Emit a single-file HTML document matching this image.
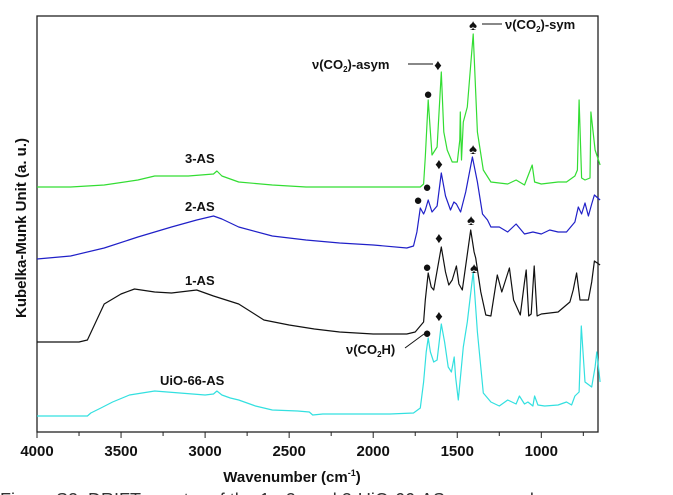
<!DOCTYPE html>
<html><head><meta charset="utf-8"><style>
html,body{margin:0;padding:0;background:#fff;width:673px;height:495px;overflow:hidden}
svg{display:block;font-family:"Liberation Sans",sans-serif}
</style></head><body>
<svg id="chart" width="673" height="495" viewBox="0 0 673 495" xmlns="http://www.w3.org/2000/svg">
<rect x="37" y="16" width="561" height="416" fill="none" stroke="#222" stroke-width="1.3"/>
<g id="ticks"></g>
<g id="series"></g>
<g font-weight="bold" font-size="13" fill="#111">
<text x="185" y="163">3-AS</text>
<text x="185" y="211">2-AS</text>
<text x="185" y="285">1-AS</text>
<text x="160" y="385">UiO-66-AS</text>
<text x="505" y="29">ν(CO<tspan font-size="8" dy="3">2</tspan><tspan dy="-3">)-sym</tspan></text>
<text x="312" y="69">ν(CO<tspan font-size="8" dy="3">2</tspan><tspan dy="-3">)-asym</tspan></text>
<text x="346" y="354">ν(CO<tspan font-size="8" dy="3">2</tspan><tspan dy="-3">H)</tspan></text>
<text transform="translate(26,228) rotate(-90)" text-anchor="middle" font-size="15">Kubelka-Munk Unit (a. u.)</text>
<text x="292" y="482" text-anchor="middle" font-size="15">Wavenumber (cm<tspan font-size="9" dy="-6">-1</tspan><tspan dy="6">)</tspan></text>
</g>
<g stroke="#111" stroke-width="1">
<line x1="482" y1="24" x2="502" y2="24"/>
<line x1="408" y1="64" x2="433" y2="64"/>
<line x1="405" y1="348" x2="424" y2="334"/>
</g>
<g fill="#111" font-size="15" text-anchor="middle">
<text x="473" y="30">♠</text><text x="438" y="70">♦</text><text x="428" y="99">●</text>
<text x="473" y="154">♠</text><text x="439" y="169">♦</text><text x="427" y="192">●</text><text x="418" y="205">●</text>
<text x="471" y="225">♠</text><text x="439" y="243">♦</text><text x="427" y="272">●</text>
<text x="474" y="273">♠</text><text x="439" y="321">♦</text><text x="427" y="338">●</text>
</g>
<text x="0" y="506" font-size="18" fill="#333">Figure S2. DRIFT spectra of the 1-, 2- and 3-UiO-66-AS compounds</text>
</svg>
<script>
const xTicks=[4000,3500,3000,2500,2000,1500,1000];
const minorTicks=[3750,3250,2750,2250,1750,1250,750];
const seriesNames=['UiO-66-AS','1-AS','2-AS','3-AS'];
const seriesColors=['#33e0e0','#111111','#2020c8','#33dd33'];
const wnUiO=[4000,3700,3680,3620,3550,3450,3300,3150,3000,2950,2930,2900,2850,2800,2700,2600,2450,2380,2360,2300,2100,1900,1760,1720,1700,1685,1673,1660,1640,1620,1595,1575,1554,1535,1518,1510,1494,1464,1440,1405,1380,1345,1300,1250,1200,1150,1130,1100,1080,1050,1040,1020,980,900,850,820,800,775,762,740,700,680,670,650];
const hUiO=[16,16,19,24,30,37,41,39,37,38,41,37,34,32,26,22,21,20,17,18,18,18,19,24,50,80,94,80,70,72,108,90,65,60,75,55,32,85,110,160,100,39,30,26,32,28,36,28,30,26,36,27,26,27,30,27,36,40,106,50,45,65,80,50];
const wn1=[4000,3750,3700,3650,3600,3500,3420,3300,3200,3050,2950,2800,2650,2500,2350,2200,2000,1800,1750,1700,1690,1673,1655,1640,1595,1570,1550,1530,1505,1490,1470,1420,1400,1390,1360,1330,1300,1262,1235,1190,1165,1125,1100,1090,1075,1060,1042,1025,1000,900,830,810,790,770,740,720,700,684,650];
const h1=[90,90,92,110,128,138,143,140,139,142,136,128,112,107,103,100,98,98,100,110,132,159,145,142,185,160,147,152,166,148,142,202,180,174,140,117,116,157,140,164,132,117,150,162,116,118,166,116,118,120,130,142,159,132,132,132,150,171,167];
const wn2=[4000,3800,3600,3400,3200,3050,2950,2900,2800,2600,2400,2200,2000,1800,1760,1740,1720,1700,1690,1673,1650,1620,1595,1570,1540,1520,1505,1480,1450,1410,1380,1350,1320,1300,1250,1200,1150,1100,1050,1000,950,900,850,800,780,760,740,720,700,684,650];
const h2=[173,176,184,195,205,212,216,213,205,196,192,189,187,184,186,200,224,218,222,232,220,226,259,236,222,230,228,220,240,275,250,218,212,205,205,200,208,198,200,198,202,200,200,210,225,218,229,216,228,237,232];
const wn3=[4000,3800,3600,3400,3300,3100,2950,2930,2900,2800,2600,2400,2200,2000,1800,1720,1700,1690,1673,1660,1650,1620,1595,1580,1560,1530,1500,1485,1482,1475,1464,1440,1405,1380,1345,1300,1200,1150,1100,1054,1040,1000,900,850,800,785,775,760,740,710,705,680,650];
const h3=[245,245,247,252,256,256,258,261,256,250,247,245,245,245,245,245,248,275,332,300,277,285,360,300,282,270,270,292,320,272,310,325,398,300,262,250,248,252,247,267,250,248,250,250,256,262,332,254,252,254,320,282,267];
const xOf=w=>37+(4000-w)*0.1681;
const yOf=h=>432-h;
const allWn=[wnUiO,wn1,wn2,wn3], allH=[hUiO,h1,h2,h3];
const ns='http://www.w3.org/2000/svg';
const tg=document.getElementById('ticks');
xTicks.forEach(t=>{
 const l=document.createElementNS(ns,'line');
 l.setAttribute('x1',xOf(t));l.setAttribute('x2',xOf(t));l.setAttribute('y1',432);l.setAttribute('y2',438);l.setAttribute('stroke','#222');
 
 
 tg.appendChild(l);
 const tx=document.createElementNS(ns,'text');
 tx.setAttribute('x',xOf(t));tx.setAttribute('y',456);tx.setAttribute('text-anchor','middle');tx.setAttribute('font-weight','bold');tx.setAttribute('font-size','15');tx.setAttribute('fill','#111');
 tx.textContent=t;
 
 
 tg.appendChild(tx);
});
minorTicks.forEach(t=>{
 const l=document.createElementNS(ns,'line');
 l.setAttribute('x1',xOf(t));l.setAttribute('x2',xOf(t));l.setAttribute('y1',432);l.setAttribute('y2',436);l.setAttribute('stroke','#222');
 
 
 tg.appendChild(l);
});
const sg=document.getElementById('series');
allWn.forEach((wn,i)=>{
 const p=document.createElementNS(ns,'path');
 p.setAttribute('d',wn.map((w,j)=>(j?'L':'M')+xOf(w).toFixed(1)+','+yOf(allH[i][j]).toFixed(1)).join(''));
 p.setAttribute('fill','none');p.setAttribute('stroke',seriesColors[i]);p.setAttribute('stroke-width','1.2');p.setAttribute('stroke-linejoin','round');
 
 
 sg.appendChild(p);
});
</script>
</body></html>
